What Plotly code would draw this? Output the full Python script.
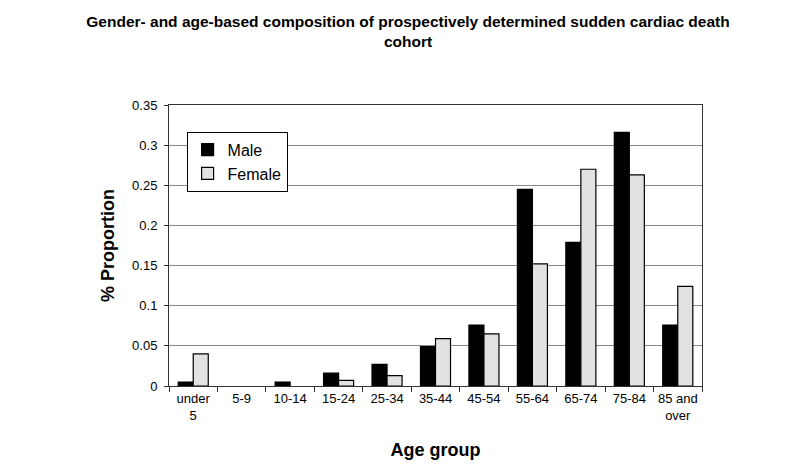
import plotly.graph_objects as go

categories = ["under<br>5", "5-9", "10-14", "15-24", "25-34", "35-44", "45-54",
              "55-64", "65-74", "75-84", "85 and<br>over"]
male = [0.005, 0.0, 0.005, 0.016, 0.027, 0.049, 0.076, 0.245, 0.179, 0.316, 0.076]
female = [0.040, 0.0, 0.0, 0.007, 0.013, 0.059, 0.065, 0.152, 0.270, 0.263, 0.124]
yticks = [0, 0.05, 0.1, 0.15, 0.2, 0.25, 0.3, 0.35]
ytick_text = ["0", "0.05", "0.1", "0.15", "0.2", "0.25", "0.3", "0.35"]


def outline_widths(vals):
    return [1.2 if v > 0 else 0 for v in vals]


fig = go.Figure()
fig.add_trace(go.Bar(name="Male", x=categories, y=male,
                     marker=dict(color="black",
                                 line=dict(color="black", width=outline_widths(male)))))
fig.add_trace(go.Bar(name="Female", x=categories, y=female,
                     marker=dict(color="#e2e2e2",
                                 line=dict(color="black", width=outline_widths(female)))))

fig.update_layout(
    width=800, height=467,
    margin=dict(l=161, r=106, t=97, b=89),
    paper_bgcolor="white", plot_bgcolor="white",
    barmode="group", bargap=0.38, bargroupgap=0,
    font=dict(family="Liberation Sans, Arial", color="black"),
    title=dict(text="<b>Gender- and age-based composition of prospectively determined sudden cardiac death<br>cohort</b>",
               x=0.5, xref="container", xanchor="center", y=0.959, yanchor="top",
               font=dict(size=15.5, color="black")),
    legend=dict(x=0.033, y=0.905, xanchor="left", yanchor="top",
                bordercolor="black", borderwidth=1, bgcolor="white",
                font=dict(size=16), itemwidth=30, tracegroupgap=0),
    showlegend=True,
)
fig.update_xaxes(
    showline=True, linecolor="#333", linewidth=1, mirror=True,
    ticks="outside", tickson="boundaries", ticklen=5, tickcolor="#333",
    tickangle=0, tickfont=dict(size=13),
    title=dict(text="<b>Age group</b>", font=dict(size=18), standoff=21),
)
fig.update_yaxes(
    range=[0, 0.35], tickvals=yticks, ticktext=ytick_text,
    showline=True, linecolor="#333", linewidth=1, mirror=True,
    ticks="outside", ticklen=4, tickcolor="#333", ticklabelstandoff=4,
    showgrid=True, gridcolor="#888", gridwidth=1,
    tickfont=dict(size=13),
    title=dict(text="<b>% Proportion</b>", font=dict(size=18), standoff=12),
)

fig.write_html("out.html")
